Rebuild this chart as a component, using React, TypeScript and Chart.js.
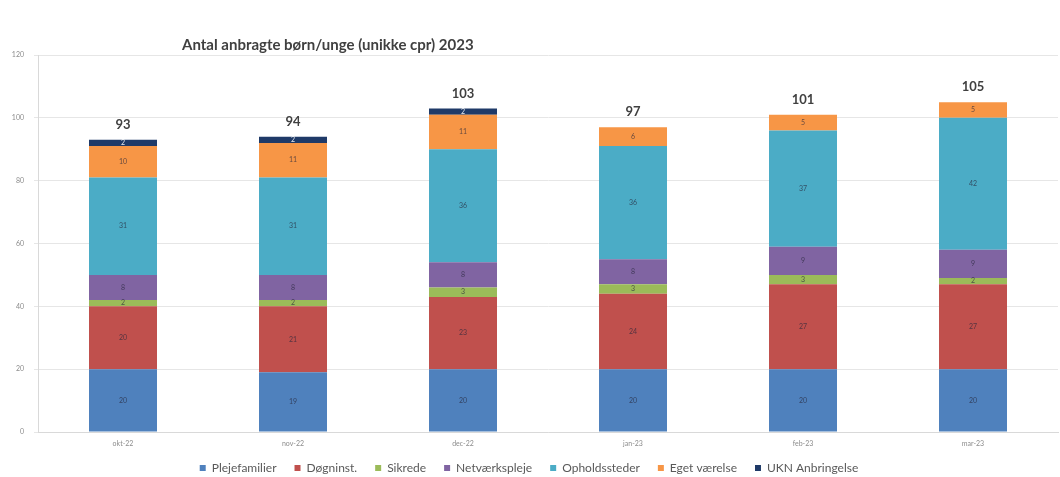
import React, { useEffect, useRef } from "react";
import { Chart, registerables } from "chart.js";

Chart.register(...registerables);

const categories = ["okt-22", "nov-22", "dec-22", "jan-23", "feb-23", "mar-23"];
const plejefamilier = [20, 19, 20, 20, 20, 20];
const doegninst = [20, 21, 23, 24, 27, 27];
const sikrede = [2, 2, 3, 3, 3, 2];
const netvaerkspleje = [8, 8, 8, 8, 9, 9];
const opholdssteder = [31, 31, 36, 36, 37, 42];
const egetVaerelse = [10, 11, 11, 6, 5, 5];
const uknAnbringelse = [2, 2, 2, 0, 0, 0];
const yTicks = [0, 20, 40, 60, 80, 100, 120];
const titleText = "Antal anbragte børn/unge (unikke cpr) 2023";

const seriesNames = [
  "Plejefamilier",
  "Døgninst.",
  "Sikrede",
  "Netværkspleje",
  "Opholdssteder",
  "Eget værelse",
  "UKN Anbringelse",
];
const seriesData = [plejefamilier, doegninst, sikrede, netvaerkspleje, opholdssteder, egetVaerelse, uknAnbringelse];
const seriesColors = ["#4F81BD", "#C0504D", "#9BBB59", "#8064A2", "#4BACC6", "#F79646", "#1F3A68"];

const FONT = "Lato, 'Open Sans', 'DejaVu Sans', sans-serif";

const labelsPlugin = {
  id: "labelsPlugin",
  afterLayout(chart: any) {
    // place the legend row lower, like the original
    const lg = chart.legend;
    if (lg) {
      lg.top = chart.height - 33;
      lg.bottom = chart.height;
      lg.height = lg.bottom - lg.top;
    }
  },
  afterDatasetsDraw(chart: any) {
    const ctx = chart.ctx;
    ctx.save();
    ctx.textAlign = "center";
    ctx.textBaseline = "middle";
    chart.data.datasets.forEach((ds: any, di: number) => {
      const meta = chart.getDatasetMeta(di);
      if (meta.hidden) return;
      meta.data.forEach((el: any, i: number) => {
        const v = ds.data[i];
        if (!v) return;
        const cy = (el.y + el.base) / 2;
        ctx.font = `7px ${FONT}`;
        ctx.fillStyle = di === 6 ? "rgba(255,255,255,0.9)" : "rgba(40,40,60,0.7)";
        ctx.fillText(String(v), el.x, cy);
      });
    });
    const yScale = chart.scales.y;
    const meta0 = chart.getDatasetMeta(0);
    categories.forEach((_, i) => {
      const total = seriesData.reduce((s, arr) => s + arr[i], 0);
      const x = meta0.data[i].x;
      const y = yScale.getPixelForValue(total) - 15;
      ctx.font = `bold 13px ${FONT}`;
      ctx.fillStyle = "#404040";
      ctx.fillText(String(total), x, y);
    });
    ctx.textAlign = "left";
    ctx.font = `bold 15px ${FONT}`;
    ctx.fillStyle = "#404040";
    ctx.fillText(titleText, chart.chartArea.left + 144, 45);
    ctx.restore();
  },
};

export default function App() {
  const ref = useRef<HTMLCanvasElement>(null);
  useEffect(() => {
    if (!ref.current) return;
    const chart = new Chart(ref.current, {
      type: "bar",
      data: {
        labels: categories,
        datasets: seriesNames.map((name, i) => ({
          label: name,
          data: seriesData[i],
          backgroundColor: seriesColors[i],
          borderWidth: 0,
          barPercentage: 0.4,
          categoryPercentage: 1,
        })),
      },
      options: {
        animation: false,
        responsive: false,
        maintainAspectRatio: false,
        layout: { padding: { left: 0, right: 2, top: 55, bottom: 0 } },
        plugins: {
          legend: {
            position: "bottom",
            maxHeight: 25,
            labels: {
              boxWidth: 6,
              boxHeight: 6,
              padding: 18,
              color: "#595959",
              font: { size: 12, family: FONT },
            },
          },
          tooltip: { enabled: false },
          title: { display: false },
        },
        scales: {
          x: {
            stacked: true,
            grid: { display: false, drawTicks: false },
            border: { display: true, color: "#d9d9d9" },
            ticks: { color: "#8c8c8c", font: { size: 7, family: FONT }, padding: 8 },
            afterFit: (scale: any) => {
              scale.height = 20;
            },
          },
          y: {
            stacked: true,
            min: 0,
            max: 120,
            afterBuildTicks: (scale: any) => {
              scale.ticks = yTicks.map((v) => ({ value: v }));
            },
            afterFit: (scale: any) => {
              scale.width = 38;
            },
            grid: { color: "#e6e6e6", drawTicks: true, tickLength: 4 },
            border: { display: true, color: "#d9d9d9" },
            ticks: { color: "#8c8c8c", font: { size: 7, family: FONT }, padding: 10 },
          },
        },
      },
      plugins: [labelsPlugin],
    });
    return () => chart.destroy();
  }, []);
  return (
    <div style={{ position: "fixed", left: 0, top: 0, width: 1060, height: 477, background: "#fff" }}>
      <canvas ref={ref} width={1060} height={477} style={{ width: 1060, height: 477 }} />
    </div>
  );
}
